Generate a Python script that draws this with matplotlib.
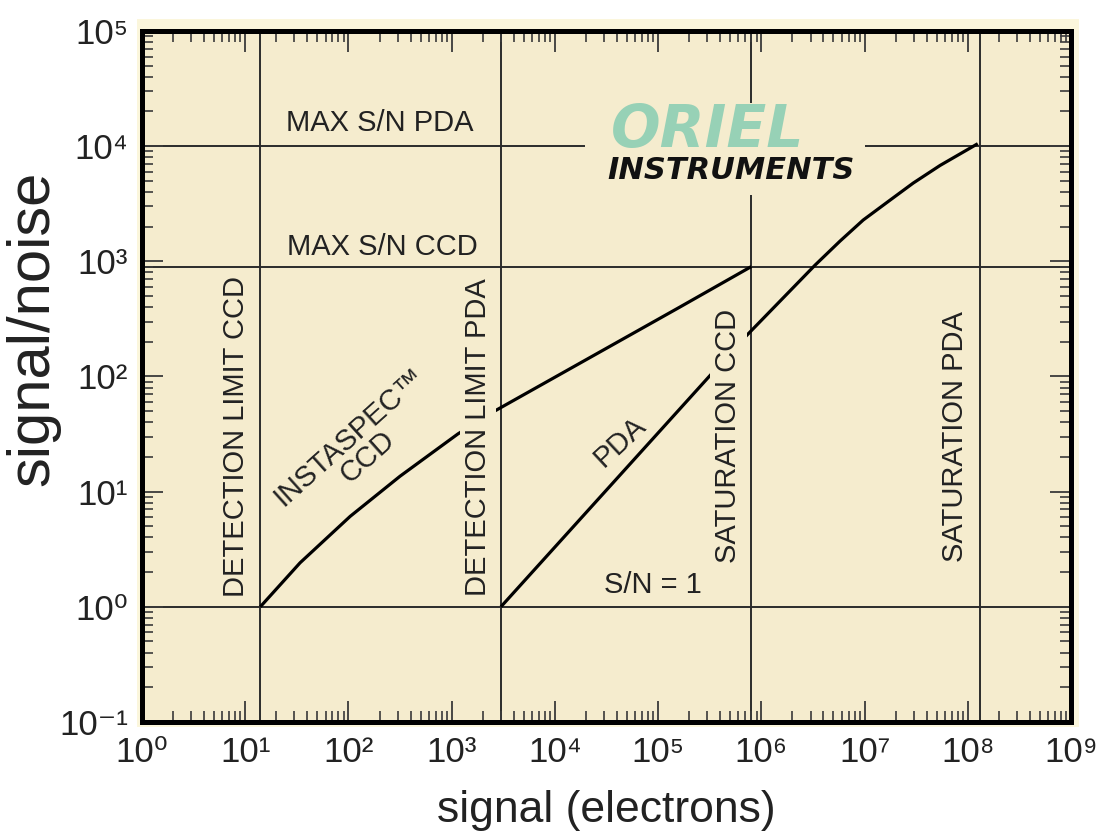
import math
import matplotlib
matplotlib.use("Agg")
import matplotlib.pyplot as plt
from matplotlib.ticker import LogLocator, FuncFormatter, NullFormatter
from matplotlib.patches import Rectangle

plt.rcParams['font.family'] = ['Liberation Sans', 'DejaVu Sans']

### DATA
ccd_signal = [14, 34, 104, 316, 1150, 2520, 1.63e5, 8.0e5]
ccd_sn = [1, 2.41, 6.1, 13.6, 31.7, 49.2, 401, 900]

pda_signal = [3000, 3.41e5, 6.97e5, 3.32e6, 5.8e6, 9.70e6, 1.77e7, 2.96e7, 5.4e7, 1.25e8]
pda_sn = [1, 109, 220, 927, 1500, 2280, 3400, 4775, 6800, 1.05e4]

# reference lines: detection limits / saturation (x) and S/N limits (y)
v_lines = [14, 3000, 8.0e5, 1.3e8]
h_lines = [1, 900, 1e4]

x_lim = (1, 1e9)
y_lim = (0.1, 1e5)

BG = '#f5ecce'
LINE = '#2b2b2b'
SUP = str.maketrans('-0123456789', '⁻⁰¹²³⁴⁵⁶⁷⁸⁹')


def pow10(v, pos):
    e = int(round(math.log10(v)))
    return '10' + str(e).translate(SUP)


fig = plt.figure(figsize=(11.05, 8.39), dpi=100)
ax = fig.add_axes([0.1285, 0.1395, 0.8407, 0.8236])
ax.set_xscale('log')
ax.set_yscale('log')
ax.set_xlim(*x_lim)
ax.set_ylim(*y_lim)
ax.set_facecolor(BG)

# pale halo just outside the frame (behind the axes)
halo = Rectangle((-0.0054, -0.0072), 1.014, 1.0246, transform=ax.transAxes,
                 facecolor='#fbf6dc', edgecolor='none', zorder=-1)
fig.add_artist(halo)

# reference lines
for xv in v_lines:
    ax.axvline(xv, color=LINE, lw=1.4, zorder=1)
for yv in h_lines:
    ax.axhline(yv, color=LINE, lw=1.4, zorder=1)

# curves
ax.plot(ccd_signal, ccd_sn, color='black', lw=2.3, solid_capstyle='butt', zorder=2)
ax.plot(pda_signal, pda_sn, color='black', lw=2.3, solid_capstyle='butt', zorder=2)

# mask behind the logo (cuts the 10^4 and saturation CCD lines)
mask = Rectangle((0.477, 0.763), 0.301, 0.133, transform=ax.transAxes,
                 facecolor=BG, edgecolor='none', zorder=3)
ax.add_patch(mask)

### Labels
fs = 21
ax.text(202, 1.6e4, 'MAX S/N PDA', fontsize=fs, ha='center', va='center', color='#222', zorder=5)
ax.text(212, 1330, 'MAX S/N CCD', fontsize=fs, ha='center', va='center', color='#222', zorder=5)
ax.text(8.95e4, 1.55, 'S/N = 1', fontsize=fs, ha='center', va='center', color='#222', zorder=5)

ax.text(8.1, 30, 'DETECTION LIMIT CCD', fontsize=fs, rotation=90,
        ha='center', va='center', color='#222', zorder=5)
box = dict(boxstyle='square,pad=0.15', facecolor=BG, edgecolor='none')
ax.text(1800, 30, 'DETECTION LIMIT PDA', fontsize=fs, rotation=90,
        ha='center', va='center', color='#222', bbox=box, zorder=5)
ax.text(4.77e5, 30.5, 'SATURATION CCD', fontsize=fs, rotation=90,
        ha='center', va='center', color='#222', bbox=box, zorder=5)
ax.text(7.55e7, 30, 'SATURATION PDA', fontsize=fs, rotation=90,
        ha='center', va='center', color='#222', zorder=5)

ax.text(125, 24.5, 'INSTASPEC™\nCCD', fontsize=fs, rotation=42, linespacing=1.0,
        ha='center', va='center', multialignment='center', color='#222', zorder=5)
ax.text(4.28e4, 27, 'PDA', fontsize=fs, rotation=43,
        ha='center', va='center', color='#222', zorder=5)

# logo
ax.text(3.05e5, 1.36e4, 'ORIEL', fontsize=42, fontweight='bold', fontstyle='italic',
        family='DejaVu Sans', ha='center', va='center', color='#97d1b6', zorder=6)
ax.text(5.1e5, 6100, 'INSTRUMENTS', fontsize=22, fontweight='bold', fontstyle='italic',
        family='DejaVu Sans', ha='center', va='center', color='#111', zorder=6)

### Axes styling
for sp in ax.spines.values():
    sp.set_linewidth(3.6)
    sp.set_color('black')
    sp.set_zorder(7)

ax.xaxis.set_major_locator(LogLocator(base=10, numticks=20))
ax.yaxis.set_major_locator(LogLocator(base=10, numticks=20))
ax.xaxis.set_minor_locator(LogLocator(base=10, subs=range(2, 10), numticks=20))
ax.yaxis.set_minor_locator(LogLocator(base=10, subs=range(2, 10), numticks=20))
ax.xaxis.set_major_formatter(FuncFormatter(pow10))
ax.yaxis.set_major_formatter(FuncFormatter(pow10))
ax.xaxis.set_minor_formatter(NullFormatter())
ax.yaxis.set_minor_formatter(NullFormatter())

ax.tick_params(which='both', direction='in', top=True, right=True, color='#3a3a3a', zorder=4)
ax.tick_params(which='major', length=15, width=1.3, labelsize=25, labelcolor='#222', pad=10)
ax.tick_params(which='minor', length=8, width=1.2)

ax.set_xlabel('signal (electrons)', fontsize=32, color='#222')
ax.set_ylabel('signal/noise', fontsize=43, color='#222')
ax.xaxis.set_label_coords(0.5, -0.099)
ax.yaxis.set_label_coords(-0.088, 0.57)

fig.savefig('out.png', dpi=100, facecolor='white')
